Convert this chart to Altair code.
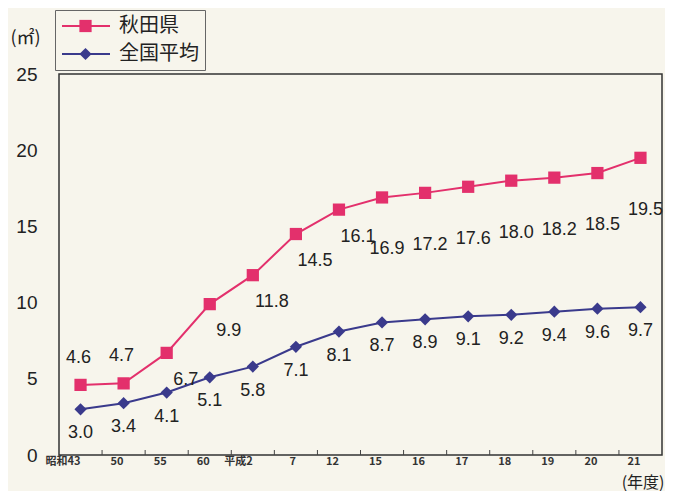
import altair as alt
import pandas as pd

years = ["昭和43", "50", "55", "60", "平成2", "7", "12", "15", "16", "17", "18", "19", "20", "21"]
akita = [4.6, 4.7, 6.7, 9.9, 11.8, 14.5, 16.1, 16.9, 17.2, 17.6, 18.0, 18.2, 18.5, 19.5]
national = [3.0, 3.4, 4.1, 5.1, 5.8, 7.1, 8.1, 8.7, 8.9, 9.1, 9.2, 9.4, 9.6, 9.7]
series_names = ["秋田県", "全国平均"]
y_ticks = [0, 5, 10, 15, 20, 25]

RED = "#e3306c"
BLUE = "#3a3a8c"
BG = "#f7f5ec"
NUM_FONT = "'Liberation Sans Narrow', 'Liberation Sans', sans-serif"
JP_FONT = "Noto Sans CJK JP"

rows = []
for name, vals in zip(series_names, [akita, national]):
    for i, (yr, v) in enumerate(zip(years, vals)):
        rows.append({"year": yr, "value": v, "series": name, "series2": name,
                     "idx": i, "label": f"{v:.1f}"})
df = pd.DataFrame(rows)

xenc = alt.X("year:N", sort=years,
             scale=alt.Scale(type="band", paddingInner=0, paddingOuter=0),
             axis=alt.Axis(title="(年度)", labelAngle=0, domain=False, ticks=False,
                           labelFont=JP_FONT, labelFontSize=11, labelFontWeight="bold",
                           labelColor="#333", labelPadding=6,
                           titleFont=JP_FONT, titleFontSize=16, titleFontWeight="normal",
                           titleColor="#222", titleAlign="right", titleAnchor="end",
                           titleBaseline="middle",
                           titleX=605, titleY=27))
yenc = alt.Y("value:Q", scale=alt.Scale(domain=[0, 25]),
             axis=alt.Axis(values=y_ticks, grid=False, domain=False, ticks=False,
                           labelFont=NUM_FONT, labelFontSize=19, labelColor="#222",
                           labelPadding=22,
                           title="(㎡)", titleAngle=0, titleX=-34, titleY=-36,
                           titleAlign="center", titleBaseline="middle",
                           titleFont=JP_FONT, titleFontSize=18, titleFontWeight="normal",
                           titleColor="#222"))

leg_common = dict(orient="none", legendY=-64, padding=6, rowPadding=8,
                  labelFont=JP_FONT, labelColor="#222",
                  clipHeight=20, title=None, labelOffset=8)

line_legend = alt.Legend(legendX=-4, symbolType="stroke", symbolSize=2304,
                         symbolStrokeWidth=2, strokeColor="#666", fillColor=BG,
                         labelFontSize=20, **leg_common)
point_legend = alt.Legend(legendX=14, symbolSize=150, labelOpacity=0, labelFontSize=1,
                          symbolStrokeWidth=0, **leg_common)

base = alt.Chart(df)

lines = base.mark_line(strokeWidth=2).encode(
    x=xenc, y=yenc,
    color=alt.Color("series:N", scale=alt.Scale(domain=series_names, range=[RED, BLUE]),
                    legend=line_legend),
    detail="series:N",
)

points = base.mark_point(filled=True, opacity=1).encode(
    x=xenc, y=yenc,
    fill=alt.Fill("series2:N", scale=alt.Scale(domain=series_names, range=[RED, BLUE]),
                  legend=point_legend),
    shape=alt.Shape("series2:N", scale=alt.Scale(domain=series_names, range=["square", "diamond"]),
                    legend=point_legend),
    size=alt.value(150),
)

ticks = alt.Chart(pd.DataFrame({"year": years[1:]})).mark_rule(color="#444", strokeWidth=1).encode(
    x=alt.X("year:N", sort=years, bandPosition=0),
    y=alt.value(381), y2=alt.value(376),
)

def labels(series, cond, dx, dy):
    return base.transform_filter(
        (alt.datum.series == series) & cond
    ).mark_text(font=NUM_FONT, fontSize=18, color="#222", dx=dx, dy=dy,
                baseline="middle", align="center").encode(x=xenc, y=yenc, text="label:N")

red_a = labels("秋田県", alt.datum.idx < 2, -2, -27)
red_b = labels("秋田県", (alt.datum.idx >= 2) & (alt.datum.idx < 7), 19, 27)
red_c = labels("秋田県", alt.datum.idx >= 7, 5, 52)
blue_l = labels("全国平均", alt.datum.idx >= 0, 0, 24)

chart = alt.layer(ticks, lines, points, red_a, red_b, red_c, blue_l).resolve_legend(
    color="independent", fill="independent", shape="independent"
).properties(
    width=603, height=381,
    padding={"left": 51, "top": 66, "right": 3, "bottom": 36},
    autosize=alt.AutoSizeParams(type="none"),
    background=BG,
).configure_view(stroke="#333", strokeWidth=1.5)

chart.save("out.html", embed_options={"renderer": "svg", "actions": False})
